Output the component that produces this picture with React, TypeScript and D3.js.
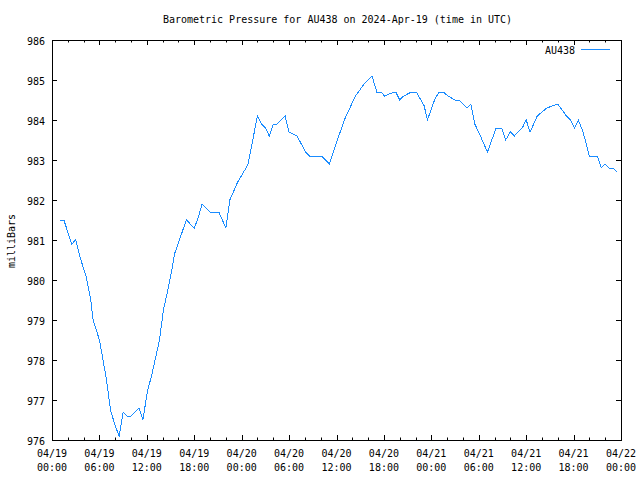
import React from "react";
import * as d3 from "d3";

// hours since 2024-04-19 00:00 UTC
const hours = [
  1.0, 1.5, 2.5, 3.0, 3.5, 4.3, 4.9, 5.2, 6.0, 6.5, 6.9, 7.4, 8.0, 8.5, 9.0, 9.5,
  10.0, 11.0, 11.5, 12.1, 12.6, 13.6, 14.1, 14.6, 15.2, 15.5, 17.0, 18.0, 18.4,
  19.0, 20.0, 21.1, 22.0, 22.5, 23.5, 24.4, 24.8, 25.0, 26.0, 26.5, 27.0, 27.5,
  28.0, 28.5, 29.5, 30.0, 30.5, 31.0, 32.1, 32.6, 34.1, 35.1, 36.1, 37.1, 38.4,
  39.5, 40.5, 41.1, 41.6, 42.1, 42.6, 43.5, 44.0, 44.5, 45.5, 46.1, 47.1, 47.5,
  48.5, 49.0, 49.5, 50.1, 51.0, 51.5, 52.5, 53.0, 53.5, 54.1, 55.1, 56.2, 56.9,
  57.4, 58.0, 58.5, 59.5, 60.0, 60.5, 61.4, 62.6, 64.0, 65.1, 65.6, 66.1, 66.6,
  67.2, 68.0, 69.0, 69.5, 70.0, 70.5, 71.0, 71.5,
];

const pressure = [
  981.5, 981.5, 980.9, 981.0, 980.6, 980.1, 979.5, 979.0, 978.5, 977.95, 977.5,
  976.75, 976.35, 976.1, 976.7, 976.6, 976.6, 976.8, 976.5, 977.25, 977.6, 978.5,
  979.25, 979.7, 980.3, 980.65, 981.5, 981.3, 981.5, 981.9, 981.7, 981.7, 981.3,
  982.0, 982.45, 982.75, 982.9, 983.1, 984.1, 983.9, 983.8, 983.6, 983.9, 983.9,
  984.1, 983.7, 983.65, 983.6, 983.2, 983.1, 983.1, 982.9, 983.5, 984.05, 984.6,
  984.9, 985.1, 984.7, 984.7, 984.6, 984.65, 984.7, 984.5, 984.6, 984.7, 984.7,
  984.35, 984.0, 984.55, 984.7, 984.7, 984.6, 984.5, 984.5, 984.3, 984.4, 983.9,
  983.65, 983.2, 983.8, 983.8, 983.5, 983.7, 983.6, 983.8, 984.0, 983.7, 984.1,
  984.3, 984.4, 984.1, 984.0, 983.8, 984.0, 983.7, 983.1, 983.1, 982.8, 982.9,
  982.8, 982.8, 982.7,
];

const yTicks = [976, 977, 978, 979, 980, 981, 982, 983, 984, 985, 986];
const xMajorHours = [0, 6, 12, 18, 24, 30, 36, 42, 48, 54, 60, 66, 72];
const xDateLabels = ["04/19", "04/19", "04/19", "04/19", "04/20", "04/20", "04/20", "04/20", "04/21", "04/21", "04/21", "04/21", "04/22"];
const xTimeLabels = ["00:00", "06:00", "12:00", "18:00", "00:00", "06:00", "12:00", "18:00", "00:00", "06:00", "12:00", "18:00", "00:00"];
const xMinorHours = d3.range(0, 73, 2).filter((h) => h % 6 !== 0);

const title = "Barometric Pressure for AU438 on 2024-Apr-19 (time in UTC)";
const seriesName = "AU438";
const yLabel = "milliBars";

const W = 640;
const H = 480;
const L = 52;
const R = 621;
const T = 40;
const B = 440;
const FONT = "'DejaVu Sans Mono', 'Liberation Mono', monospace";
const LINE_COLOR = "#1a8cff";

export default function App() {
  const x = d3.scaleLinear().domain([0, 72]).range([L, R]);
  const y = d3.scaleLinear().domain([976, 986]).range([B, T]);
  const pts: [number, number][] = hours.map((h, i) => [h, pressure[i]]);
  const line = d3
    .line<[number, number]>()
    .x((d) => x(d[0]))
    .y((d) => y(d[1]));

  const major = 5;
  const minor = 2.5;

  return (
    <svg
      width={W}
      height={H}
      style={{ position: "absolute", left: 0, top: 0, background: "#fff" }}
      fontFamily={FONT}
      fontSize={10}
    >
      <rect x={0} y={0} width={W} height={H} fill="#fff" />
      <text x={(L + R) / 2 + 1} y={23} textAnchor="middle" fill="#000">
        {title}
      </text>

      {/* y ticks */}
      {yTicks.map((v) => (
        <g key={"y" + v}>
          <line x1={L} x2={L + major} y1={y(v) + 0.5} y2={y(v) + 0.5} stroke="#000" />
          <line x1={R} x2={R - major} y1={y(v) + 0.5} y2={y(v) + 0.5} stroke="#000" />
          <text x={45} y={y(v) + 5} textAnchor="end" fill="#000">
            {v}
          </text>
        </g>
      ))}

      {/* x major ticks */}
      {xMajorHours.map((h, i) => (
        <g key={"x" + h}>
          <line x1={Math.round(x(h)) + 0.5} x2={Math.round(x(h)) + 0.5} y1={B} y2={B - major} stroke="#000" />
          <line x1={Math.round(x(h)) + 0.5} x2={Math.round(x(h)) + 0.5} y1={T} y2={T + major} stroke="#000" />
          <text x={x(h)} y={457} textAnchor="middle" fill="#000">
            {xDateLabels[i]}
          </text>
          <text x={x(h)} y={471} textAnchor="middle" fill="#000">
            {xTimeLabels[i]}
          </text>
        </g>
      ))}
      {xMinorHours.map((h) => (
        <g key={"m" + h}>
          <line x1={Math.round(x(h)) + 0.5} x2={Math.round(x(h)) + 0.5} y1={B} y2={B - minor} stroke="#000" />
          <line x1={Math.round(x(h)) + 0.5} x2={Math.round(x(h)) + 0.5} y1={T} y2={T + minor} stroke="#000" />
        </g>
      ))}

      {/* frame */}
      <rect x={L + 0.5} y={T + 0.5} width={R - L} height={B - T} fill="none" stroke="#000" />

      {/* data */}
      <path
        d={line(pts) || ""}
        fill="none"
        stroke={LINE_COLOR}
        strokeWidth={1}
        shapeRendering="crispEdges"
      />

      {/* legend */}
      <text x={575} y={54} textAnchor="end" fill="#000">
        {seriesName}
      </text>
      <line
        x1={581}
        x2={610}
        y1={49.5}
        y2={49.5}
        stroke={LINE_COLOR}
        strokeWidth={1}
        shapeRendering="crispEdges"
      />

      {/* y label */}
      <text
        transform={`translate(15, ${241}) rotate(-90)`}
        textAnchor="middle"
        fill="#000"
      >
        {yLabel}
      </text>
    </svg>
  );
}
